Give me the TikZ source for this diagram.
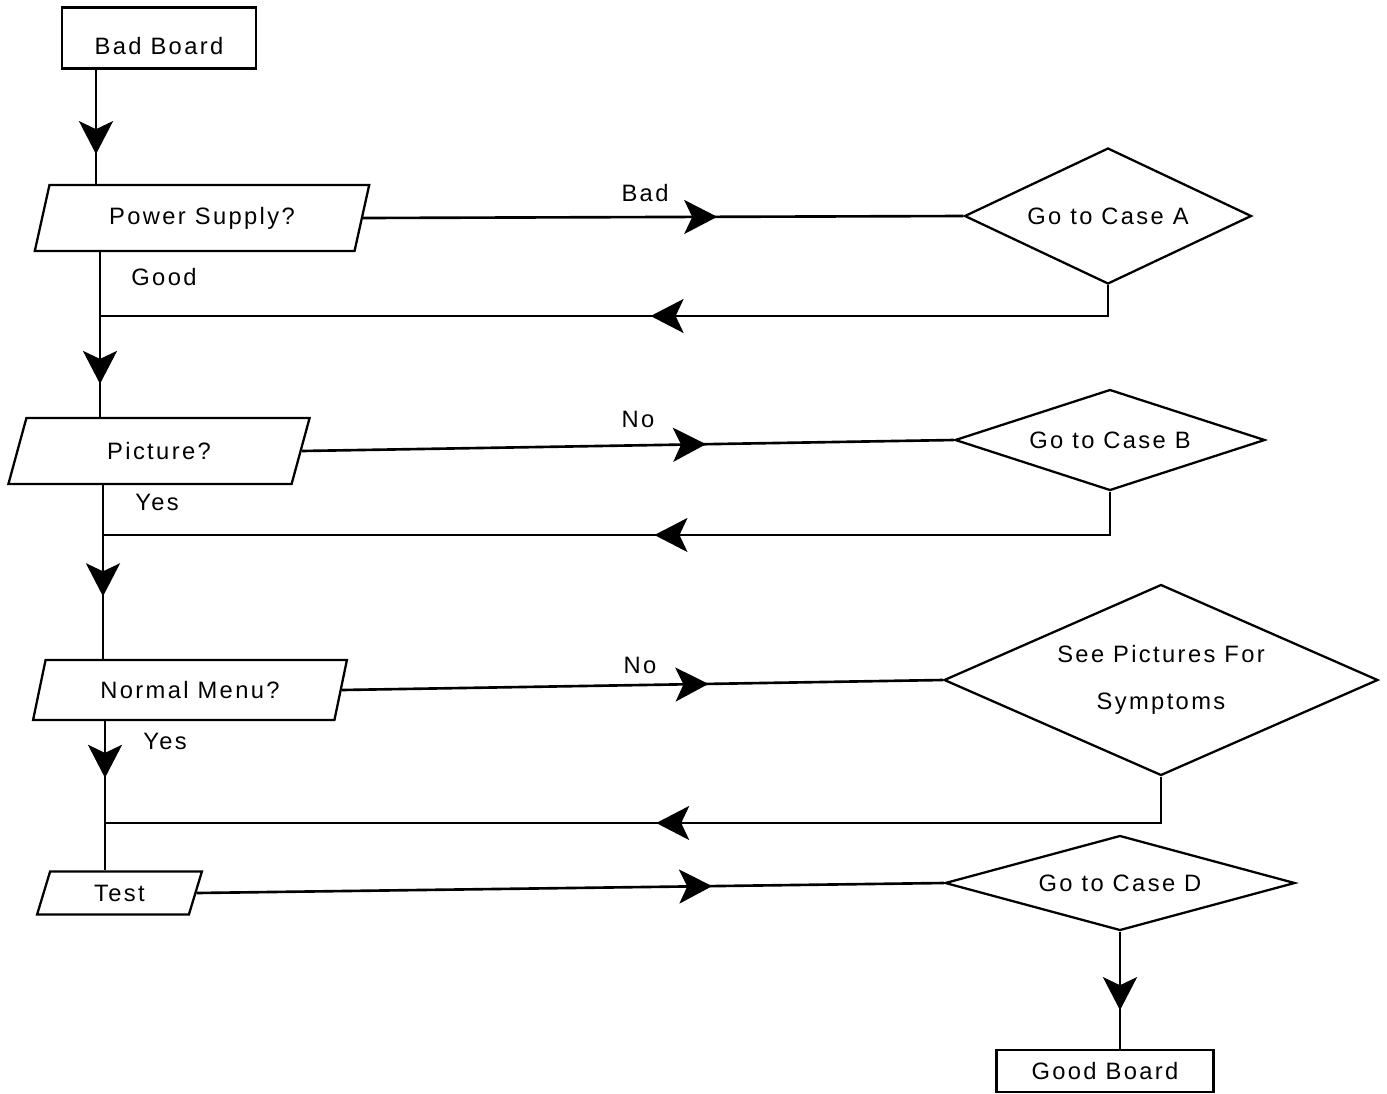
\documentclass[tikz,border=0pt]{standalone}
\usepackage{fontspec}
\setmainfont{Liberation Sans}[LetterSpace=10]
\usetikzlibrary{arrows.meta,shapes.geometric,decorations.markings,calc}
\tikzstyle{edge}  =[line width=1.5pt]
\tikzstyle{box}   =[rectangle, draw, line width=1.3pt, inner sep=0pt]
\tikzstyle{para}  =[trapezium, draw, line width=1.3pt, inner sep=0pt,
                    trapezium stretches=true,
                    trapezium left angle=68, trapezium right angle=112]
\tikzstyle{choice}=[diamond, draw, line width=1.3pt, inner sep=0pt,
                    align=center]
\tikzset{midarrow/.style={postaction={decorate},
    decoration={markings,mark=at position #1 with
      {\arrow{Stealth[length=0.66cm,width=0.68cm,inset=0.16cm]}}}}}

\begin{document}
\begin{tikzpicture}[x=0.02cm,y=-0.02cm,font=\fontsize{13.5}{17}\selectfont]
    \useasboundingbox (0,0) rectangle (1387,1093);

    \draw (159,38) node(bad)[box,minimum width=3.88cm,minimum height=1.22cm,
        text height=0.68cm]{Bad Board};
    \draw (202,218) node(ps)[para,minimum width=6.7cm,minimum height=1.32cm]{Power Supply?};
    \draw (159,451) node(pic)[para,minimum width=6.04cm,minimum height=1.32cm]{Picture?};
    \draw (190,690) node(nm)[para,minimum width=6.28cm,minimum height=1.2cm,
        trapezium left angle=66,trapezium right angle=114]{Normal Menu?};
    \draw (119.5,893) node(test)[para,minimum width=3.3cm,minimum height=0.86cm,
        trapezium left angle=74,trapezium right angle=106]{Test};

    \draw (1108,216) node(dA)[choice,aspect=2.11,minimum width=5.74cm,minimum height=2.72cm]{Go to Case A};
    \draw (1110,440) node(dB)[choice,aspect=3.07,minimum width=6.2cm,minimum height=2.02cm]{Go to Case B};
    \draw (1161,680) node(dC)[choice,aspect=2.27,minimum width=8.68cm,minimum height=3.82cm]{See Pictures For\\[10pt]Symptoms};
    \draw (1120,883) node(dD)[choice,aspect=3.68,minimum width=7cm,minimum height=1.9cm]{Go to Case D};
    \draw (1105,1071) node(good)[box,minimum width=4.34cm,minimum height=0.84cm]{Good Board};

    \draw (645,193) node(lbad){Bad};
    \draw (164,277) node(lgood){Good};
    \draw (638,419) node(lno1){No};
    \draw (157,502) node(lyes1){Yes};
    \draw (640,665) node(lno2){No};
    \draw (165,741) node(lyes2){Yes};

    \coordinate (j0) at (96,0);
    \coordinate (j1) at (100,316);
    \coordinate (j2) at (103,535);
    \coordinate (j3) at (105,823);

    \draw [edge,midarrow=0.74] (bad.south -| j0) -- (ps.north -| j0);
    \draw [edge,midarrow=0.8] (ps.south -| j1) -- (pic.north -| j1);
    \draw [edge,midarrow=0.64] (pic.south -| j2) -- (nm.north -| j2);
    \draw [edge,midarrow=0.38] (nm.south -| j3) -- (test.north -| j3);

    \foreach \i/\j/\p in {ps/dA/0.59,pic/dB/0.62,nm/dC/0.61,test/dD/0.69}
        \draw [edge,midarrow=\p] (\i.east) -- (\j.west);
    \foreach \i/\j/\p in {dA/j1/0.47,dB/j2/0.475,dC/j3/0.5}
        \draw [edge,midarrow=\p] (\i.south) |- (\j);

    \draw [edge,midarrow=0.67] (dD.south) -- (dD.south |- good.north);
\end{tikzpicture}
\end{document}
